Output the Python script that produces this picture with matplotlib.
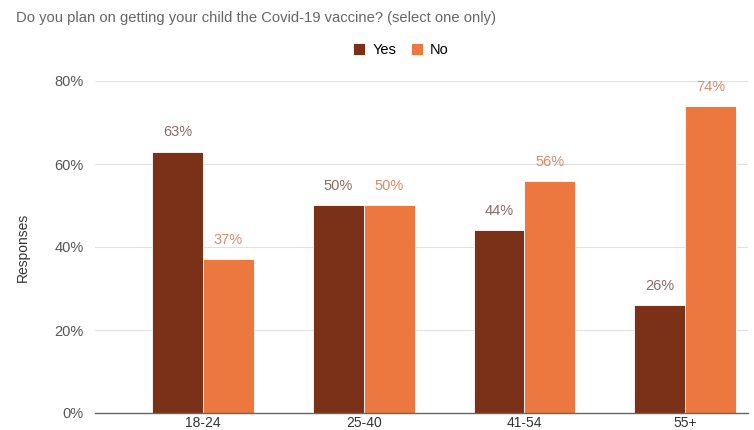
import matplotlib
matplotlib.use("Agg")
import matplotlib.pyplot as plt
import numpy as np

plt.rcParams['font.family'] = ['Liberation Sans', 'DejaVu Sans']

categories = ["18-24", "25-40", "41-54", "55+"]
yes_vals = [63, 50, 44, 26]
no_vals = [37, 50, 56, 74]
yticks = [0, 20, 40, 60, 80]

c_yes = "#7a3118"
c_no = "#ec7840"

fig = plt.figure(figsize=(7.54, 4.30), dpi=100)
ax = fig.add_axes([95/754, 17/430, (748-95)/754, (413-81)/430])

x = np.arange(len(categories))
w = 0.316
ax.bar(x - w/2, yes_vals, w, color=c_yes, edgecolor="white", linewidth=0.6, label="Yes", zorder=3)
ax.bar(x + w/2, no_vals, w, color=c_no, edgecolor="white", linewidth=0.6, label="No", zorder=3)

for xi, v in zip(x, yes_vals):
    ax.text(xi - w/2, v + 4.6, f"{v}%", ha="center", va="center", fontsize=10.5, color="#8c6a60")
for xi, v in zip(x, no_vals):
    ax.text(xi + w/2, v + 4.6, f"{v}%", ha="center", va="center", fontsize=10.5, color="#d98a66")

ax.set_xlim(-0.672, 3.391)
ax.set_ylim(0, 80)
ax.set_yticks(yticks)
ax.set_yticklabels([f"{t}%" for t in yticks], fontsize=10.5, color="#555555")
ax.set_xticks(x)
ax.set_xticklabels(categories, fontsize=10, color="#333333")
ax.tick_params(axis="y", length=0, pad=8)
ax.tick_params(axis="x", length=0, pad=2)
ax.grid(axis="y", color="#e0e0e0", linewidth=0.8, zorder=0)
for s in ["top", "right", "left"]:
    ax.spines[s].set_visible(False)
ax.spines["bottom"].set_color("#666666")
ax.spines["bottom"].set_linewidth(1.0)
ax.spines["bottom"].set_zorder(4)

ax.set_ylabel("Responses", fontsize=10, color="#333333", labelpad=18)

fig.text(16/754, 1 - 18/430, "Do you plan on getting your child the Covid-19 vaccine? (select one only)",
         fontsize=10.6, color="#666666", ha="left", va="center")

leg = fig.legend(loc="center", bbox_to_anchor=(401/754, 1 - 50/430), ncol=2, frameon=False,
                 fontsize=10.5, handlelength=0.8, handleheight=0.8, columnspacing=1.0, handletextpad=0.5)

fig.savefig("out.png", dpi=100)
